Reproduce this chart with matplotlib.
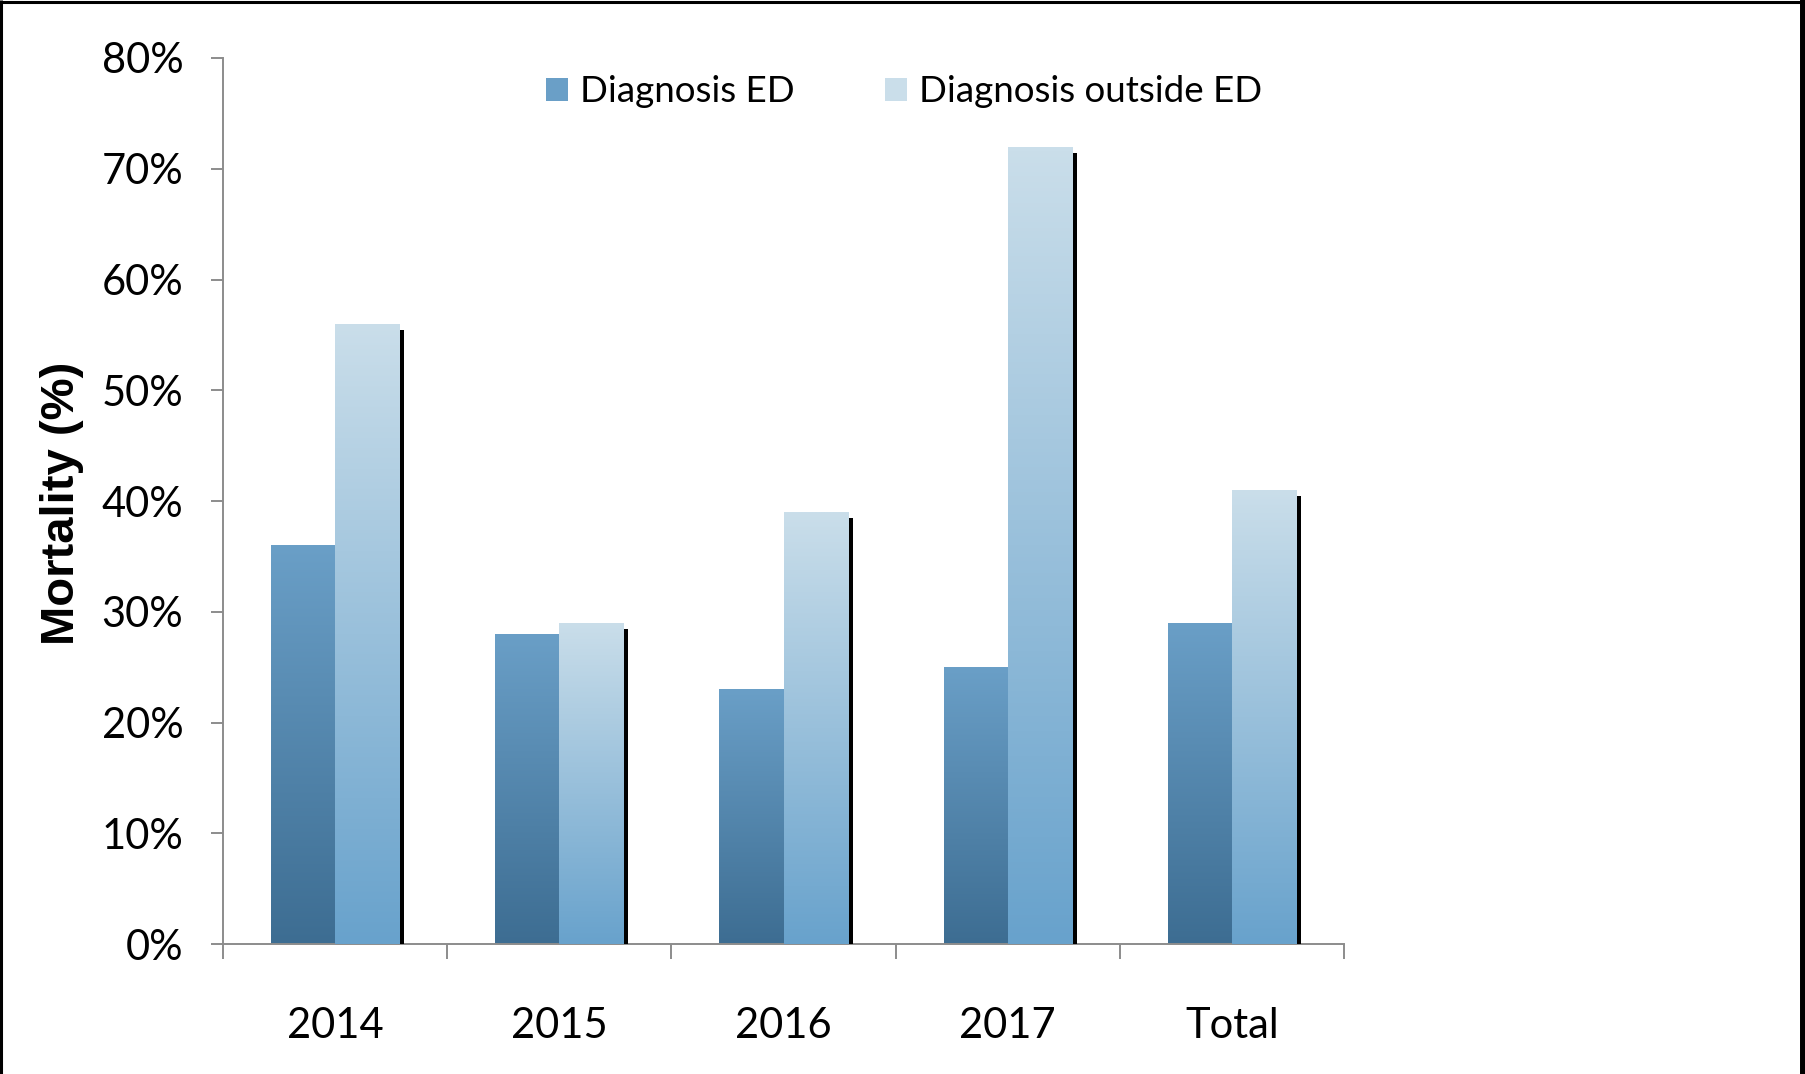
import matplotlib
matplotlib.use("Agg")
import matplotlib.pyplot as plt
import numpy as np
from matplotlib import patheffects
from matplotlib.colors import LinearSegmentedColormap
from matplotlib.patches import Patch
from matplotlib.lines import Line2D

categories = ["2014", "2015", "2016", "2017", "Total"]
diagnosis_ed = [36, 28, 23, 25, 29]
diagnosis_outside_ed = [56, 29, 39, 72, 41]
series_labels = ["Diagnosis ED", "Diagnosis outside ED"]
y_ticks = [0, 10, 20, 30, 40, 50, 60, 70, 80]

# (top colour, bottom colour) for each series
ed_colors = ("#6a9fc7", "#3d6d92")
outside_colors = ("#cadeea", "#68a2cc")

BAR_W = 1 / 3.5
AXIS_GRAY = "#8c8c8c"


def fill_gradient(ax, bar, top_color, bottom_color, z):
    x0, y0 = bar.get_x(), bar.get_y()
    w, h = bar.get_width(), bar.get_height()
    cmap = LinearSegmentedColormap.from_list("bar", [bottom_color, top_color])
    grad = np.linspace(0, 1, 256).reshape(-1, 1)
    im = ax.imshow(grad, cmap=cmap, origin="lower", aspect="auto",
                   extent=[x0, x0 + w, y0, y0 + h], zorder=z + 0.1,
                   interpolation="bilinear")
    im.set_clip_path(bar)


fig = plt.figure(figsize=(18.06, 10.74), dpi=100)
ax = fig.add_axes([0.1235, 0.121, 0.6207, 0.825])

x = np.arange(len(categories))
shadow = [patheffects.SimplePatchShadow(offset=(3.6, -4.3), shadow_rgbFace="black", alpha=1.0),
          patheffects.Normal()]

ed_bars = ax.bar(x - BAR_W / 2, diagnosis_ed, width=BAR_W, color=ed_colors[1],
                 linewidth=0)
out_bars = ax.bar(x + BAR_W / 2, diagnosis_outside_ed, width=BAR_W,
                  color=outside_colors[1], linewidth=0)

for i, (b1, b2) in enumerate(zip(ed_bars, out_bars)):
    z1 = 2 + i * 0.01
    z2 = 3 + i * 0.01
    b1.set_zorder(z1)
    b2.set_zorder(z2)
    b1.set_path_effects(shadow)
    b2.set_path_effects(shadow)
    fill_gradient(ax, b1, ed_colors[0], ed_colors[1], z1)
    fill_gradient(ax, b2, outside_colors[0], outside_colors[1], z2)

ax.set_xlim(-0.5, len(categories) - 0.5)
ax.set_ylim(0, 80)

for side in ["top", "right"]:
    ax.spines[side].set_visible(False)
for side in ["left", "bottom"]:
    ax.spines[side].set_color(AXIS_GRAY)
    ax.spines[side].set_linewidth(1.4)

ax.set_yticks(y_ticks)
ax.set_yticklabels([f"{v}%" for v in y_ticks], fontfamily="Lato", fontsize=30)
ax.tick_params(axis="y", direction="out", length=8.6, width=1.4,
               color=AXIS_GRAY, pad=20)

ax.set_xticks(x)
ax.set_xticklabels(categories, fontfamily="Lato", fontsize=30)
ax.set_xticks(np.arange(-0.5, len(categories), 1), minor=True)
ax.tick_params(axis="x", which="major", length=0, pad=45)
ax.tick_params(axis="x", which="minor", direction="out", length=10.8,
               width=1.4, color=AXIS_GRAY)

fig.text(62 / 1806, 1 - 503 / 1074, "Mortality (%)", rotation=90,
         ha="center", va="center", fontsize=34, fontweight="bold",
         fontfamily="Liberation Sans")

handles = [Patch(facecolor=ed_colors[0], edgecolor="none"),
           Patch(facecolor=outside_colors[0], edgecolor="none")]
fig.legend(handles, series_labels, loc="center left",
           bbox_to_anchor=(546 / 1806, 1 - 92 / 1074), ncol=2, frameon=False,
           prop={"family": "Lato", "size": 26.5}, handlelength=0.6,
           handleheight=0.62, handletextpad=0.33, columnspacing=2.45,
           borderpad=0, borderaxespad=0)

# black frame around the picture (left, top, right)
fig.add_artist(Line2D([1.5 / 1806, 1.5 / 1806], [0, 1], transform=fig.transFigure,
                      color="black", lw=2.2, solid_capstyle="butt"))
fig.add_artist(Line2D([0, 1], [1 - 1.5 / 1074, 1 - 1.5 / 1074], transform=fig.transFigure,
                      color="black", lw=2.2, solid_capstyle="butt"))
fig.add_artist(Line2D([1 - 3 / 1806, 1 - 3 / 1806], [0, 1], transform=fig.transFigure,
                      color="black", lw=4.3, solid_capstyle="butt"))

fig.savefig("out.png", dpi=100)
